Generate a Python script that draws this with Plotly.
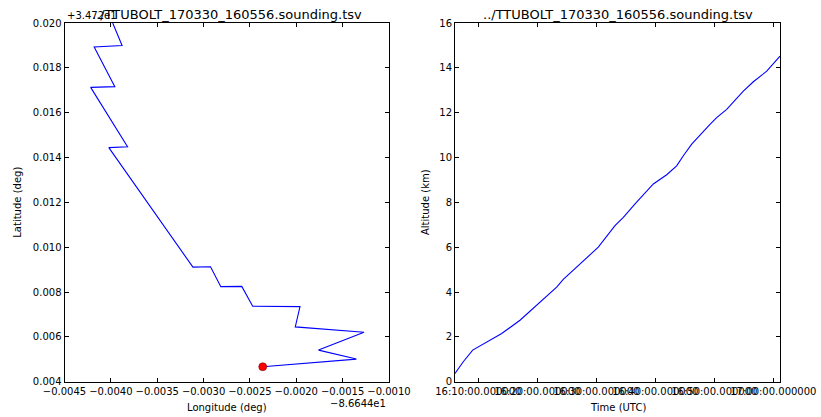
import plotly.graph_objects as go

SOURCE_FILE = "../TTUBOLT_170330_160556.sounding.tsv"
FLIGHT_DATE = "2017-03-30"

# Ground track, stored relative to the axis offsets shown on the plot
LAT_OFFSET = 34.72
LON_OFFSET = -86.644
lon_rel = [-0.002362, -0.001352, -0.001760, -0.001269, -0.002011, -0.001960,
           -0.002470, -0.002588, -0.002814, -0.002925, -0.003115, -0.004022,
           -0.003820, -0.004218, -0.003957, -0.004180, -0.003879, -0.003980]
lat_rel = [0.004667, 0.005009, 0.005409, 0.006209, 0.006444, 0.007350,
           0.007364, 0.008250, 0.008240, 0.009130, 0.009110, 0.014440,
           0.014480, 0.017130, 0.017160, 0.018930, 0.018996, 0.020000]

# Altitude profile (UTC time of day, km)
times_utc = ["16:06:03", "16:07:27", "16:09:03", "16:11:25", "16:13:58",
             "16:17:04", "16:20:27", "16:23:17", "16:24:24", "16:26:41",
             "16:30:20", "16:33:10", "16:34:35", "16:36:34", "16:39:40",
             "16:41:56", "16:43:37", "16:44:45", "16:46:10", "16:49:16",
             "16:50:24", "16:52:06", "16:54:55", "16:56:37", "16:58:53",
             "17:01:08"]
altitude_km = [0.37, 0.89, 1.41, 1.78, 2.15, 2.74, 3.56, 4.22, 4.56, 5.11,
               6.00, 6.96, 7.33, 7.93, 8.82, 9.23, 9.63, 10.08, 10.60, 11.48,
               11.78, 12.15, 12.96, 13.38, 13.85, 14.52]

W, H = 821, 417
FONT = "DejaVu Sans"
LINE_BLUE = "#0000ff"

stamps = [f"{FLIGHT_DATE} {t}" for t in times_utc]

fig = go.Figure()
fig.add_trace(go.Scatter(x=lon_rel, y=lat_rel, mode="lines",
                         line=dict(color=LINE_BLUE, width=1.1),
                         xaxis="x", yaxis="y", showlegend=False))
fig.add_trace(go.Scatter(x=[lon_rel[0]], y=[lat_rel[0]], mode="markers",
                         marker=dict(color="#ff0000", size=8,
                                     line=dict(color="#600000", width=0.5)),
                         xaxis="x", yaxis="y", showlegend=False,
                         cliponaxis=False))
fig.add_trace(go.Scatter(x=stamps, y=altitude_km, mode="lines",
                         line=dict(color=LINE_BLUE, width=1.1),
                         xaxis="x2", yaxis="y2", showlegend=False))

left_dom = [64.5 / W, 389 / W]
right_dom = [455 / W, 780 / W]
y_dom = [(H - 381.7) / H, (H - 23) / H]

axis_common = dict(showline=True, linecolor="black", linewidth=1, mirror="ticks",
                   ticks="inside", ticklen=4, tickwidth=1, tickcolor="black",
                   showgrid=False, zeroline=False, automargin=False,
                   tickfont=dict(family=FONT, size=10, color="black"))

fig.update_layout(
    width=W, height=H,
    margin=dict(l=0, r=0, t=0, b=0),
    paper_bgcolor="white", plot_bgcolor="white",
    xaxis=dict(domain=left_dom, anchor="y", range=[-0.0045, -0.0010],
               tick0=-0.0045, dtick=0.0005, tickformat=".4f", tickangle=0,
               **axis_common),
    yaxis=dict(domain=y_dom, anchor="x", range=[0.004, 0.020],
               tick0=0.004, dtick=0.002, tickformat=".3f", **axis_common),
    xaxis2=dict(domain=right_dom, anchor="y2", type="date",
                range=[stamps[0], stamps[-1]],
                tick0=f"{FLIGHT_DATE} 16:10:00", dtick=600000,
                tickformat="%H:%M:%S.000000", tickangle=0, **axis_common),
    yaxis2=dict(domain=y_dom, anchor="x2", range=[0, 16], dtick=2,
                **axis_common),
)

def label(text, x, y, size=10, xanchor="center", angle=0):
    fig.add_annotation(text=text, x=x, y=y, xref="paper", yref="paper",
                       xanchor=xanchor, yanchor="middle", showarrow=False,
                       textangle=angle,
                       font=dict(family=FONT, size=size, color="black"))

# Subplot titles
label(SOURCE_FILE, sum(left_dom) / 2, (H - 14) / H, size=13)
label(SOURCE_FILE, sum(right_dom) / 2, (H - 14) / H, size=13)

# Axis offset texts on the track plot
label(f"+{LAT_OFFSET / 10:.4g}e1", 65 / W, (H - 16) / H, xanchor="left")
label(f"\u2212{abs(LON_OFFSET) / 10:.5g}e1", 388 / W, (H - 403) / H, xanchor="right")

# Axis titles
label("Longitude (deg)", sum(left_dom) / 2, (H - 407) / H)
label("Time (UTC)", sum(right_dom) / 2, (H - 407) / H)
label("Latitude (deg)", 16.7 / W, (H - 202) / H, angle=-90)
label("Altitude (km)", 425 / W, (H - 202) / H, angle=-90)

fig.write_html("out.html")
